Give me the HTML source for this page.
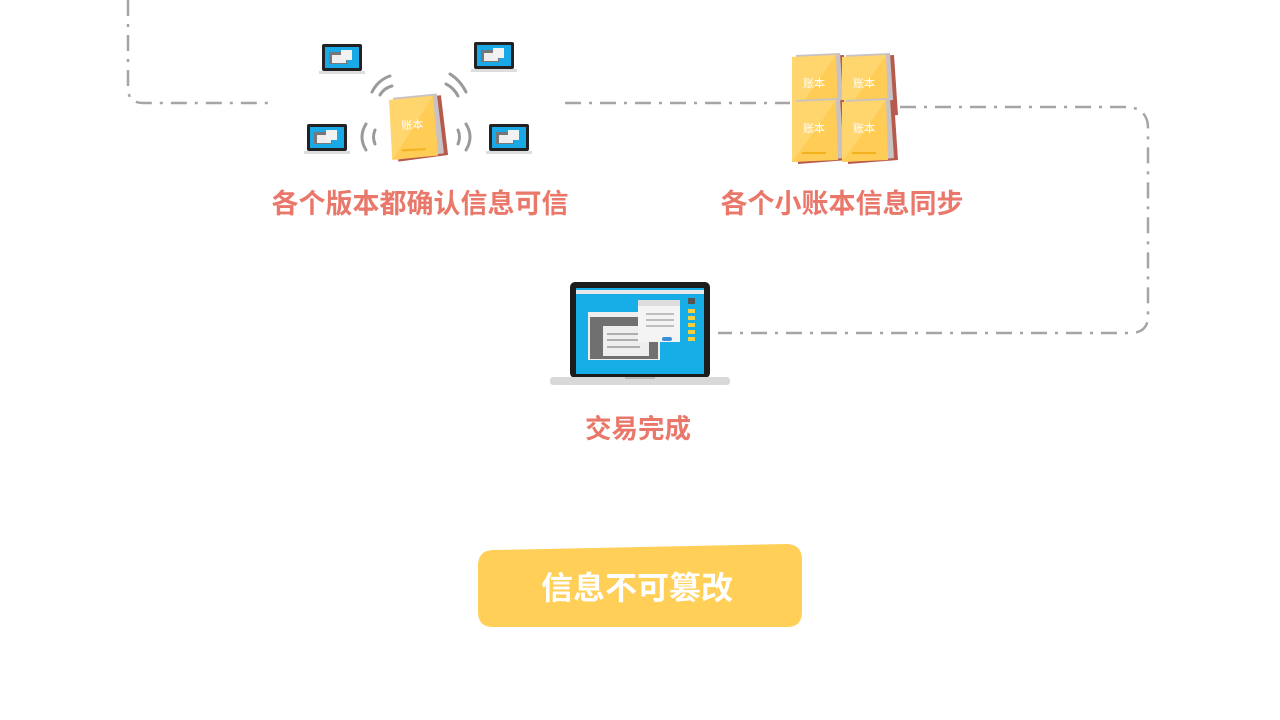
<!DOCTYPE html>
<html><head><meta charset="utf-8"><style>
html,body{margin:0;padding:0;background:#fff;width:1280px;height:720px;overflow:hidden}
text{font-family:"Liberation Sans","Noto Sans CJK SC",sans-serif;font-weight:bold}
</style></head><body>
<svg width="1280" height="720" viewBox="0 0 1280 720" xmlns="http://www.w3.org/2000/svg">
<defs>
<g id="lap">
  <rect x="3" y="0" width="40" height="27" rx="2" fill="#222"/>
  <rect x="6" y="3" width="34" height="21" fill="#19a9e6"/>
  <rect x="10" y="8" width="18" height="12" fill="#777"/>
  <rect x="13" y="11" width="14" height="8" fill="#eee"/>
  <rect x="22" y="6" width="11" height="10" fill="#f2f2f2"/>
  <rect x="0" y="27" width="46" height="3" fill="#ddd"/>
</g>
<g id="book">
  <polygon points="4,2 52,0 56,60 6,64" fill="#b65a4c"/>
  <polygon points="4,0 48,-2 52,58 4,62" fill="#c9c2c4"/>
  <polygon points="0,2 44,0 46,60 0,62" fill="#ffcc55"/>
  <polygon points="0,2 44,0 22,32 0,62" fill="#ffd979" opacity="0.7"/>
  <rect x="10" y="52" width="24" height="2" fill="#f3b21d"/>
  <text x="22" y="32" font-size="11" fill="#fff" text-anchor="middle" style="font-weight:normal">账本</text>
</g>
</defs>
<g fill="none" stroke="#a5a5a5" stroke-width="2.5" stroke-dasharray="16,8,3,8">
  <path d="M128 0 V88 Q128 103 143 103 H268"/>
  <path d="M565 103 H790"/>
  <path d="M900 107 H1130 Q1148 110 1148 128 V316 Q1148 333 1130 333 H718"/>
</g>
<use href="#lap" x="319" y="44"/>
<use href="#lap" x="471" y="42"/>
<use href="#lap" x="304" y="124"/>
<use href="#lap" x="486" y="124"/>
<g fill="none" stroke="#9a9a9a" stroke-width="3" stroke-linecap="round">
  <path d="M372 92 Q378 80 390 76"/><path d="M380 95 Q384 88 392 86"/>
  <path d="M466 92 Q460 80 450 74"/><path d="M458 96 Q454 88 446 84"/>
  <path d="M366 124 Q358 137 366 150"/><path d="M375 130 Q372 137 375 144"/>
  <path d="M466 124 Q474 137 466 150"/><path d="M458 130 Q461 137 458 144"/>
</g>
<g transform="translate(389,98) rotate(-3)"><use href="#book"/></g>
<use href="#book" x="792" y="55"/>
<use href="#book" x="842" y="55"/>
<use href="#book" x="792" y="100"/>
<use href="#book" x="842" y="100"/>
<rect x="570" y="282" width="140" height="96" rx="5" fill="#1c1c1c"/>
<rect x="576" y="288" width="128" height="86" fill="#17aee8"/>
<rect x="576" y="290" width="128" height="4" fill="#e8e8e8"/>
<rect x="588" y="312" width="72" height="48" fill="#eee"/>
<rect x="590" y="317" width="68" height="42" fill="#707070"/>
<rect x="603" y="326" width="46" height="30" fill="#eee"/>
<g stroke="#999" stroke-width="1.5"><line x1="607" y1="334" x2="640" y2="334"/><line x1="607" y1="340" x2="640" y2="340"/><line x1="607" y1="347" x2="640" y2="347"/></g>
<rect x="638" y="300" width="42" height="42" fill="#f4f4f4"/>
<rect x="638" y="300" width="42" height="6" fill="#ddd"/>
<g stroke="#888" stroke-width="1"><line x1="646" y1="314" x2="674" y2="314"/><line x1="646" y1="320" x2="674" y2="320"/><line x1="646" y1="326" x2="674" y2="326"/></g>
<rect x="662" y="337" width="10" height="4" rx="2" fill="#3b8fd9"/>
<rect x="688" y="298" width="7" height="6" fill="#555"/>
<g fill="#f6cf3c"><rect x="688" y="309" width="7" height="4"/><rect x="688" y="316" width="7" height="4"/><rect x="688" y="323" width="7" height="4"/><rect x="688" y="330" width="7" height="4"/><rect x="688" y="337" width="7" height="4"/></g>
<rect x="550" y="377" width="180" height="8" rx="3" fill="#d9d9d9"/>
<rect x="625" y="377" width="30" height="2" fill="#bbb"/>
<text x="420" y="213" font-size="27" fill="#e9786b" text-anchor="middle">各个版本都确认信息可信</text>
<text x="842" y="213" font-size="27" fill="#e9786b" text-anchor="middle">各个小账本信息同步</text>
<text x="638" y="438" font-size="26.5" fill="#e9786b" text-anchor="middle">交易完成</text>
<path d="M494 550 L786 544 Q802 544 802 560 L802 612 Q802 627 787 627 L493 627 Q478 627 478 612 L478 566 Q478 550 494 550 Z" fill="#ffcf57"/>
<text x="637" y="599" font-size="32" fill="#fff" text-anchor="middle">信息不可篡改</text>
</svg>
</body></html>
